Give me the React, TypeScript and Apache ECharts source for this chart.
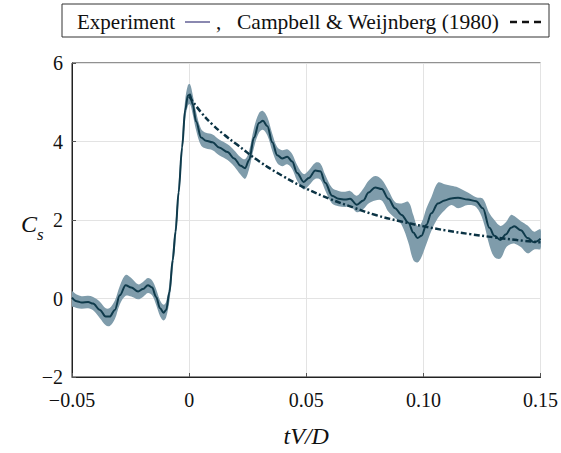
import React, { useEffect, useRef } from 'react';
import * as echarts from 'echarts';

const FONT = 'Liberation Serif, Times New Roman, serif';

// Experiment: time (tV/D), mean C_s, lower and upper envelope
const tValues = [
  -0.05, -0.048, -0.0459, -0.0431, -0.041, -0.0381, -0.0356, -0.0339, -0.0317, -0.0296,
  -0.0271, -0.0247, -0.0218, -0.0197, -0.0176, -0.0158, -0.0141, -0.0124, -0.0109, -0.0098,
  -0.0084, -0.007, -0.0058, -0.0045, -0.003, -0.0017, -0.0005, 0.0004, 0.0015, 0.003,
  0.0051, 0.0072, 0.01, 0.0128, 0.0164, 0.0192, 0.022, 0.0239, 0.0256, 0.0277,
  0.0298, 0.0315, 0.0334, 0.0355, 0.0376, 0.0397, 0.0419, 0.044, 0.0461, 0.0489,
  0.0511, 0.0539, 0.056, 0.0581, 0.061, 0.0638, 0.0666, 0.0687, 0.0716, 0.0744,
  0.0766, 0.0794, 0.0822, 0.0851, 0.0879, 0.0907, 0.0936, 0.0957, 0.0975, 0.0992,
  0.1013, 0.1034, 0.1062, 0.1091, 0.1119, 0.1148, 0.119, 0.1225, 0.1254, 0.1282,
  0.1303, 0.1329, 0.1353, 0.1374, 0.1388, 0.1416, 0.1445, 0.1473, 0.15,
];
const csValues = [
  0.02, -0.07, -0.1, -0.09, -0.13, -0.29, -0.46, -0.46, -0.29, 0.08,
  0.34, 0.28, 0.18, 0.24, 0.34, 0.28, 0.04, -0.25, -0.36, -0.29,
  0.16, 0.98, 1.7, 2.7, 3.85, 4.8, 5.17, 5.2, 4.95, 4.51,
  4.1, 4.02, 3.98, 3.85, 3.73, 3.57, 3.38, 3.32, 3.53, 4.1,
  4.47, 4.53, 4.39, 3.98, 3.65, 3.57, 3.61, 3.49, 3.2, 2.97,
  3.07, 3.26, 3.24, 2.95, 2.62, 2.54, 2.52, 2.54, 2.39, 2.5,
  2.7, 2.83, 2.79, 2.54, 2.3, 2.13, 1.93, 1.68, 1.54, 1.6,
  1.88, 2.17, 2.42, 2.5, 2.55, 2.57, 2.52, 2.48, 2.3, 1.8,
  1.6, 1.49, 1.64, 1.8, 1.84, 1.74, 1.54, 1.43, 1.52,
];
const csLower = [
  -0.2, -0.24, -0.26, -0.25, -0.3, -0.5, -0.68, -0.7, -0.52, -0.15,
  0.07, 0.05, -0.02, 0.04, 0.14, 0.08, -0.16, -0.45, -0.56, -0.48,
  -0.06, 0.75, 1.45, 2.45, 3.6, 4.55, 4.92, 4.95, 4.7, 4.28,
  3.9, 3.82, 3.78, 3.65, 3.53, 3.37, 3.15, 3.05, 3.3, 3.85,
  4.22, 4.3, 4.15, 3.76, 3.45, 3.37, 3.42, 3.3, 3.0, 2.78,
  2.88, 3.05, 3.03, 2.75, 2.42, 2.35, 2.33, 2.36, 2.2, 2.28,
  2.42, 2.5, 2.5, 2.21, 2.05, 1.88, 1.42, 0.98, 0.92, 1.06,
  1.39, 1.72, 2.05, 2.25, 2.38, 2.3, 2.38, 2.33, 2.0, 1.35,
  1.06, 1.02, 1.3, 1.39, 1.4, 1.31, 1.15, 1.25, 1.27,
];
const csUpper = [
  0.18, 0.1, 0.06, 0.07, 0.04, -0.08, -0.25, -0.24, -0.05, 0.32,
  0.6, 0.52, 0.36, 0.42, 0.52, 0.46, 0.24, -0.05, -0.16, -0.08,
  0.38, 1.22, 1.95, 2.95, 4.1, 5.05, 5.44, 5.46, 5.2, 4.75,
  4.32, 4.22, 4.18, 4.05, 3.93, 3.78, 3.6, 3.55, 3.76, 4.35,
  4.72, 4.78, 4.62, 4.2, 3.86, 3.78, 3.8, 3.68, 3.4, 3.17,
  3.27, 3.46, 3.44, 3.15, 2.82, 2.74, 2.72, 2.74, 2.62, 2.8,
  3.0, 3.12, 3.03, 2.75, 2.46, 2.42, 2.46, 2.13, 1.84, 1.93,
  2.3, 2.58, 2.95, 2.91, 2.87, 2.83, 2.7, 2.58, 2.54, 2.17,
  2.0, 1.85, 1.95, 2.13, 2.1, 1.97, 1.86, 1.7, 1.76,
];

// Campbell & Weijnberg (1980)
const campbellT = [0, 0.005, 0.01, 0.015, 0.02, 0.03, 0.04, 0.05, 0.06, 0.07, 0.08, 0.09, 0.1, 0.11, 0.12, 0.13, 0.14, 0.15];
const campbellCs = [5.15, 4.75, 4.43, 4.17, 3.94, 3.49, 3.12, 2.8, 2.54, 2.32, 2.12, 1.97, 1.84, 1.73, 1.64, 1.56, 1.49, 1.43];

const LINE_COLOR = '#0f3a4b';
const BAND_COLOR = '#7f9cab';
const DASH_COLOR = '#0b3344';

const fmtX = (v: number) => {
  if (Math.abs(v) < 1e-9) return '0';
  return (v < 0 ? '\u2212' : '') + Math.abs(v).toFixed(2);
};
const fmtY = (v: number) => (v < 0 ? '\u2212' + Math.abs(v) : String(v));

export default function App() {
  const ref = useRef<HTMLDivElement>(null);
  useEffect(() => {
    const chart = echarts.init(ref.current as HTMLDivElement, null, { renderer: 'svg' });
    const linePts = tValues.map((t, i) => [t, csValues[i]]);
    const campPts = campbellT.map((t, i) => [t, campbellCs[i]]);
    const txt = (text: string, x: number, y: number, size: number, italic = false) => ({
      type: 'text', z: 101, x, y,
      style: {
        text, fontFamily: FONT, fontSize: size, fontStyle: italic ? 'italic' : 'normal',
        fill: '#111', verticalAlign: 'middle', align: 'left',
      },
    });
    const option: any = {
      animation: false,
      backgroundColor: '#ffffff',
      grid: {
        left: 72, right: 19, top: 63, bottom: 65,
        show: true, borderColor: '#222', borderWidth: 1, backgroundColor: 'transparent',
      },
      xAxis: {
        type: 'value', min: -0.05, max: 0.15, interval: 0.05,
        axisLine: { show: true, onZero: false, lineStyle: { color: '#222', width: 1 } },
        axisTick: { show: true, inside: true, length: 4, lineStyle: { color: '#555' } },
        splitLine: { show: true, lineStyle: { color: '#e3e3e3', width: 1 } },
        axisLabel: {
          fontFamily: FONT, fontSize: 20, color: '#111', margin: 13,
          showMinLabel: true, showMaxLabel: true, formatter: fmtX,
        },
        name: 'tV/D', nameLocation: 'middle', nameGap: 47,
        nameTextStyle: { fontFamily: FONT, fontStyle: 'italic', fontSize: 24, color: '#111' },
      },
      yAxis: {
        type: 'value', min: -2, max: 6, interval: 2,
        axisLine: { show: true, onZero: false, lineStyle: { color: '#222', width: 1 } },
        axisTick: { show: true, inside: true, length: 4, lineStyle: { color: '#555' } },
        splitLine: { show: true, lineStyle: { color: '#e3e3e3', width: 1 } },
        axisLabel: {
          fontFamily: FONT, fontSize: 20, color: '#111', margin: 9,
          showMinLabel: true, showMaxLabel: true, formatter: fmtY,
        },
      },
      graphic: [
        {
          type: 'rect', z: 100,
          shape: { x: 62, y: 4, width: 487, height: 33 },
          style: { fill: '#fff', stroke: '#333', lineWidth: 1 },
        },
        txt('Experiment', 77, 21.5, 21),
        {
          type: 'line', z: 101,
          shape: { x1: 185, y1: 22, x2: 210, y2: 22 },
          style: { stroke: '#8a88b0', lineWidth: 2 },
        },
        txt(',', 216, 21.5, 21),
        txt('Campbell & Weijnberg (1980)', 237, 21.5, 21.5),
        {
          type: 'line', z: 101,
          shape: { x1: 510, y1: 22, x2: 543, y2: 22 },
          style: { stroke: '#111', lineWidth: 2.7, lineDash: [7, 5] },
        },
        txt('C', 21, 224, 24, true),
        txt('s', 37, 234, 17, true),
      ],
      series: [
        {
          type: 'custom', name: 'band', silent: true, clip: true, z: 1,
          data: [[tValues[0], csValues[0]]],
          encode: { x: 0, y: 1 },
          renderItem: (_params: any, api: any) => {
            const pts: number[][] = [];
            for (let i = 0; i < tValues.length; i++) pts.push(api.coord([tValues[i], csUpper[i]]));
            for (let i = tValues.length - 1; i >= 0; i--) pts.push(api.coord([tValues[i], csLower[i]]));
            return {
              type: 'polygon',
              shape: { points: pts, smooth: 0.35 },
              style: { fill: BAND_COLOR, stroke: 'none' },
            };
          },
        },
        {
          type: 'line', name: 'Experiment', data: linePts, smooth: 0.35, smoothMonotone: 'x',
          showSymbol: false, symbol: 'none', z: 2,
          lineStyle: { color: LINE_COLOR, width: 2 },
        },
        {
          type: 'line', name: 'Campbell & Weijnberg (1980)', data: campPts, smooth: 0.4,
          showSymbol: false, symbol: 'none', z: 3,
          lineStyle: { color: DASH_COLOR, width: 2.5, type: [6, 2.5, 2, 2.5] },
        },
      ],
    };
    chart.setOption(option);
    return () => chart.dispose();
  }, []);
  return <div ref={ref} style={{ position: 'absolute', left: 0, top: 0, width: 561, height: 453 }} />;
}
